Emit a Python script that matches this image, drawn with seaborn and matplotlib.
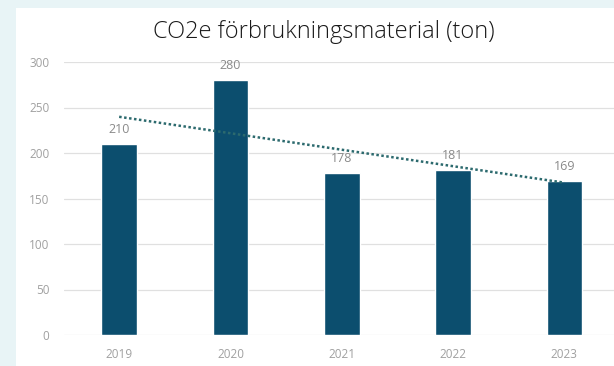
import numpy as np
import pandas as pd
import seaborn as sns
import matplotlib
matplotlib.use("Agg")
import matplotlib.pyplot as plt
from matplotlib.patches import Rectangle

years = ["2019", "2020", "2021", "2022", "2023"]
values = [210, 280, 178, 181, 169]
labels = ["210", "280", "178", "181", "169"]
yticks = [0, 50, 100, 150, 200, 250, 300]
title = "CO2e förbrukningsmaterial (ton)"

sns.set_theme(style="white")
plt.rcParams["font.family"] = ["Open Sans", "DejaVu Sans"]

W, H = 614, 366
fig = plt.figure(figsize=(W / 100, H / 100), dpi=100)
fig.patch.set_facecolor("#e8f4f6")
bg = Rectangle((16 / W, 0), 1, 1 - 8 / H, transform=fig.transFigure,
               facecolor="white", edgecolor="none", zorder=-5)
fig.patches.append(bg)

# axes: x from 63.5 to 620 px, y from 335 (0) to 62 (300)
left, right = 63.5 / W, 620 / W
bottom, top = 1 - 335 / H, 1 - 62 / H
ax = fig.add_axes([left, bottom, right - left, top - bottom])
ax.set_zorder(2)
ax.set_facecolor("none")
ax.patch.set_alpha(0)

df = pd.DataFrame({"year": years, "value": values})
sns.barplot(data=df, x="year", y="value", color="#0c4e6e", saturation=1,
            width=0.32, ax=ax, zorder=3)

ax.set_ylim(0, 300)
ax.set_xlim(-0.5, 4.5)
ax.set_yticks(yticks)
ax.set_yticklabels([str(t) for t in yticks])
ax.yaxis.grid(True, color="#e0e0e0", linewidth=0.9, zorder=0)
ax.set_axisbelow(True)
ax.xaxis.grid(False)
for s in ax.spines.values():
    s.set_visible(False)
ax.set_xlabel("")
ax.set_ylabel("")
ax.tick_params(axis="both", length=0, colors="#a0a0a0", labelsize=8.5)
ax.tick_params(axis="y", pad=10)
ax.tick_params(axis="x", pad=9)

# trend line
xs = np.arange(len(values))
m, b = np.polyfit(xs, values, 1)
ax.plot(xs, m * xs + b, linestyle=(0, (1, 1)), color="#2c6a6e", linewidth=1.8, zorder=4)

for i, (v, lab) in enumerate(zip(values, labels)):
    ax.text(i, v + 9, lab, ha="center", va="bottom", fontsize=9, color="#8a8a8a", zorder=5)

fig.text(324 / W, 1 - 32 / H, title, ha="center", va="center", fontsize=17,
         fontweight="light", color="#1a1a1a", zorder=10)

fig.savefig("out.png", dpi=100, facecolor=fig.get_facecolor())
